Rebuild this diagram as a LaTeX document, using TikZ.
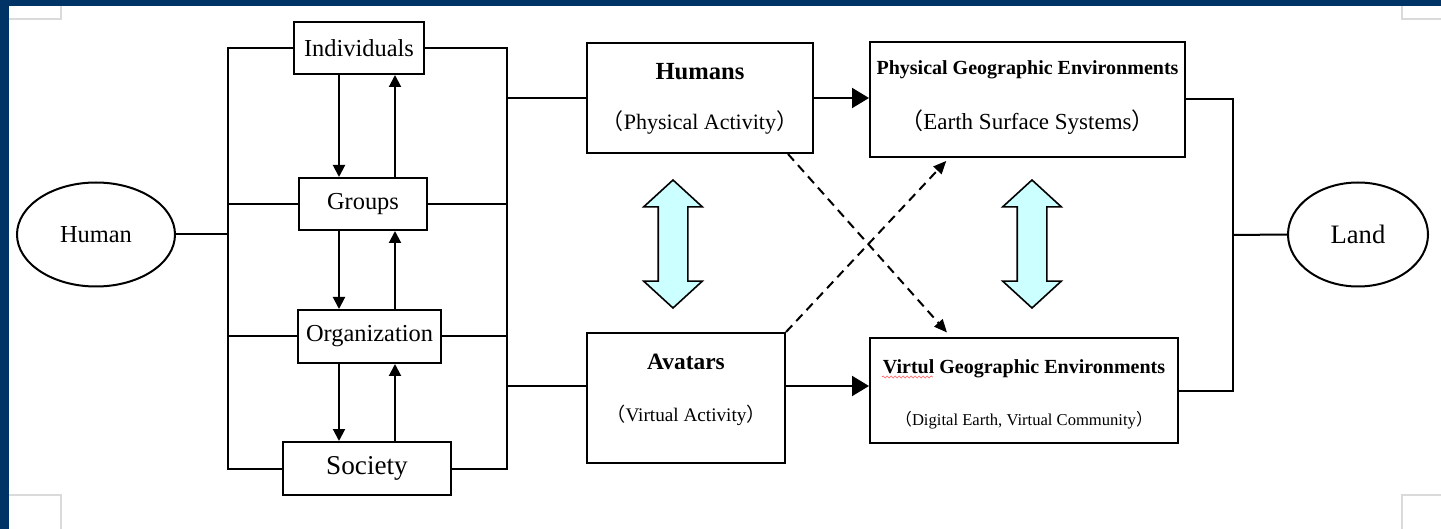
\documentclass[tikz,border=0pt]{standalone}
\usepackage{fontspec}
\setmainfont{Liberation Serif}
\newfontfamily\cjk{Noto Sans CJK SC}
\usetikzlibrary{positioning,arrows.meta,shapes.geometric,shapes.arrows,decorations.pathmorphing}
\definecolor{framebg}{RGB}{0,51,102}
\definecolor{liftfill}{RGB}{204,255,255}
\definecolor{pagemark}{RGB}{218,218,218}
\newcommand{\openp}{{\cjk （}}
\newcommand{\closep}{{\cjk ）}}

\begin{document}
\begin{tikzpicture}[x=0.5pt, y=-0.5pt, line width=1pt,
    box/.style={draw, rectangle, inner sep=0pt, font=\fontsize{12.2}{14}\selectfont},
    oval/.style={draw, ellipse, inner sep=0pt, minimum height=52pt, font=\fontsize{12.2}{14}\selectfont},
    lbl/.style={inner sep=0pt, anchor=base},
    tip/.style={-{Triangle[length=6pt,width=6pt]}},
    bigtip/.style={-{Triangle[length=8.5pt,width=10pt]}},
    dsh/.style={dash pattern=on 4.5pt off 3pt, -{Triangle[length=6.5pt,width=5.5pt]}},
    lift/.style={draw, fill=liftfill, double arrow, rotate=90, line width=0.8pt,
        minimum height=64pt, minimum width=28.5pt, inner sep=7pt,
        double arrow head extend=7.25pt, double arrow tip angle=95}]
    \useasboundingbox (0,0) rectangle (1441,529);
    % page frame and corner marks
    \fill[framebg] (0,0) rectangle (1441,6);
    \fill[framebg] (0,0) rectangle (9,529);
    \draw[pagemark] (9,19) -- (61,19) -- (61,6);
    \draw[pagemark] (1441,19) -- (1402,19) -- (1402,6);
    \draw[pagemark] (9,495) -- (61,495) -- (61,529);
    \draw[pagemark] (1441,495) -- (1402,495) -- (1402,529);

    % ends
    \node[oval, minimum width=79pt] (hmn) at (96,234.5) {Human};
    \node[oval, minimum width=70pt, font=\fontsize{13.3}{15}\selectfont] (lnd) at (1358,234.5) {Land};

    % social levels
    \node[box, minimum width=65pt, minimum height=26pt] (ind) at (359,48) {Individuals};
    \node[box, minimum width=64pt, minimum height=26pt] (grp) at (363,204) {Groups};
    \node[box, minimum width=71.5pt, minimum height=26.5pt] (org) at (369.5,336.5) {Organization};
    \node[box, minimum width=84pt, minimum height=26.5pt, font=\fontsize{13.6}{16}\selectfont] (soc) at (367,468.5) {Society};

    % activity boxes
    \node[box, minimum width=113pt, minimum height=55pt] (hum) at (700,98) {};
    \node[lbl, font=\fontsize{12.3}{14}\bfseries] (humt) at ([yshift=9pt]hum.center) {Humans};
    \node[lbl, font=\fontsize{11}{13}\selectfont] (hums) at ([yshift=-16pt]hum.center) {\openp Physical Activity\closep};

    \node[box, minimum width=99pt, minimum height=65pt] (ava) at (686,398) {};
    \node[lbl, font=\fontsize{11.7}{14}\bfseries] (avat) at ([yshift=14pt]ava.center) {Avatars};
    \node[lbl, font=\fontsize{9.6}{12}\selectfont] (avas) at ([yshift=-12pt]ava.center) {\openp Virtual Activity\closep};

    % environments
    \node[box, minimum width=157.5pt, minimum height=57.5pt] (pge) at (1027.5,99.5) {};
    \node[lbl, font=\fontsize{10}{12}\bfseries] (pget) at ([yshift=12.25pt]pge.center) {Physical Geographic Environments};
    \node[lbl, font=\fontsize{11.5}{14}\selectfont] (pges) at ([yshift=-15.25pt]pge.center) {\openp Earth Surface Systems\closep};

    \node[box, minimum width=154pt, minimum height=52.5pt] (vge) at (1024,390.5) {};
    \node[lbl, font=\fontsize{10}{12}\bfseries] (vget) at ([yshift=8.75pt]vge.center) {Virtul Geographic Environments};
    \node[lbl, font=\fontsize{8.3}{10}\selectfont] (vges) at ([yshift=-17.25pt]vge.center) {\openp Digital Earth, Virtual Community\closep};
    \draw[red!55, line width=0.4pt, decorate, decoration={snake, amplitude=0.5pt, segment length=2pt}]
        ([yshift=-2pt]vget.base west) -- ++(25.5pt,0);

    \node[lift] (lf1) at (673,244) {};
    \node[lift] (lf2) at (1032,244) {};

    % buses
    \coordinate (busL) at (228,0);
    \coordinate (busR) at (507,0);
    \coordinate (busE) at (1233,235);
    \draw (ind.west) -- (ind.west -| busL) -- (soc.west -| busL) -- (soc.west);
    \draw (ind.east) -- (ind.east -| busR) -- (soc.east -| busR) -- (soc.east);
    \foreach \n in {grp,org} {
        \draw (\n.west) -- (\n.west -| busL);
        \draw (\n.east) -- (\n.east -| busR);
    }
    \draw (hmn.east) -- (hmn.east -| busL);
    \draw (hum.west -| busR) -- (hum.west);
    \draw ([yshift=6pt]ava.west -| busR) -- ([yshift=6pt]ava.west);

    % up and down between levels
    \coordinate (dnx) at (339,0);
    \coordinate (upx) at (395,0);
    \foreach \a/\b in {ind/grp, grp/org, org/soc} {
        \draw[tip] (\a.south -| dnx) -- (\b.north -| dnx);
        \draw[tip] (\b.north -| upx) -- (\a.south -| upx);
    }

    \draw[bigtip] (hum.east) -- (hum.east -| pge.west);
    \draw[bigtip] ([yshift=6pt]ava.east) -- ([yshift=6pt]ava.east -| vge.west);
    \draw[dsh, shorten >=3pt] ([xshift=-13pt]hum.south east) -- ([xshift=41pt]vge.north west);
    \draw[dsh, shorten >=2pt] (ava.north east) -- ([xshift=40pt]pge.south west);

    \draw (pge.east) -- (pge.east -| busE) -- (vge.east -| busE) -- (vge.east);
    \draw (busE) -- (lnd.west);
\end{tikzpicture}
\end{document}
